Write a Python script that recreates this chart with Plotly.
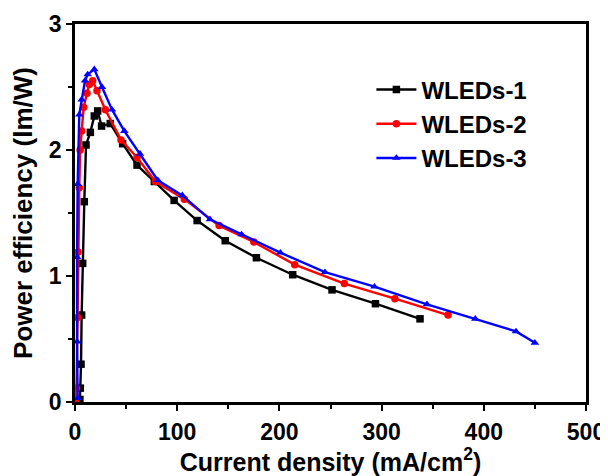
import plotly.graph_objects as go

# WLEDs-1 (black squares)
x1 = [4.8, 5.2, 5.9, 6.5, 7.5, 9.1, 10.8, 15, 18.9, 22.2, 26, 34.5, 46.6, 60.7, 77.6,
      97, 119.5, 147, 177.5, 213, 251.5, 294, 337.6]
y1 = [0.02, 0.11, 0.30, 0.69, 1.10, 1.59, 2.04, 2.14, 2.27, 2.31, 2.19, 2.21, 2.05, 1.88, 1.75,
      1.60, 1.44, 1.28, 1.145, 1.01, 0.89, 0.78, 0.66]

# WLEDs-2 (red circles)
x2 = [1.0, 1.5, 2.5, 3.0, 4.2, 5.0, 6.5, 8.5, 11.7, 14, 17.3, 21.5, 29.7, 45, 60.7, 78.6,
      107, 141, 175, 215, 263.5, 313, 365]
y2 = [0.02, 0.11, 0.67, 1.19, 1.70, 2.0, 2.15, 2.34, 2.45, 2.52, 2.55, 2.47, 2.32, 2.08, 1.94, 1.75,
      1.61, 1.40, 1.27, 1.09, 0.94, 0.82, 0.69]

# WLEDs-3 (blue triangles)
x3 = [2.6, 2.0, 2.0, 2.6, 4.2, 6.5, 9.8, 12.4, 18.9, 26.4, 36.2, 48.3, 63.6, 81, 105,
      132, 163, 201, 244.6, 293, 344.4, 391.7, 431.5, 450]
y3 = [0.03, 0.48, 1.15, 1.73, 2.28, 2.40, 2.55, 2.60, 2.64, 2.50, 2.32, 2.15, 1.97, 1.76, 1.64,
      1.45, 1.33, 1.185, 1.03, 0.915, 0.775, 0.66, 0.56, 0.47]

names = ["WLEDs-1", "WLEDs-2", "WLEDs-3"]
colors = ["#000000", "#ff0000", "#0000ff"]
symbols = ["square", "circle", "triangle-up"]
x_ticks = [0, 100, 200, 300, 400, 500]
y_ticks = [0, 1, 2, 3]

FONT = "Liberation Sans, Arial, sans-serif"

fig = go.Figure()
for xs, ys, n, c, s in zip([x1, x2, x3], [y1, y2, y3], names, colors, symbols):
    fig.add_trace(go.Scatter(
        x=xs, y=ys, name=n, mode="lines+markers",
        line=dict(color=c, width=2.4),
        marker=dict(symbol=s, size=7.5, color=c),
    ))

axis_common = dict(
    showgrid=False, zeroline=False, automargin=False,
    showline=True, linecolor="black", linewidth=2.5, mirror=True,
    ticks="outside", ticklen=6, tickwidth=2, tickcolor="black",
    ticklabeloverflow="allow",
    tickfont=dict(family=FONT, size=23, color="black", weight="bold"),
)

fig.update_xaxes(
    range=[0, 500], tickvals=x_ticks, ticktext=[str(v) for v in x_ticks],
    minor=dict(dtick=50, ticks="outside", ticklen=4, tickwidth=2, tickcolor="black"),
    ticklabelstandoff=2,
    title=dict(text="Current density (mA/cm<sup>2</sup>)",
               font=dict(family=FONT, size=25, color="black", weight="bold"), standoff=16),
    **axis_common,
)
fig.update_yaxes(
    range=[0, 3], tickvals=y_ticks, ticktext=[str(v) for v in y_ticks],
    minor=dict(dtick=0.5, ticks="outside", ticklen=4, tickwidth=2, tickcolor="black"),
    title=dict(text="Power efficiency (lm/W)",
               font=dict(family=FONT, size=26, color="black", weight="bold"), standoff=14),
    **axis_common,
)

# page body has a small margin, so the figure is drawn a little smaller
fig.update_layout(
    width=600, height=468,
    margin=dict(l=67, r=22, t=16, b=74),
    paper_bgcolor="white", plot_bgcolor="white",
    legend=dict(x=0.58, y=0.885, xanchor="left", yanchor="top",
                bgcolor="rgba(0,0,0,0)", borderwidth=0,
                font=dict(family=FONT, size=24, color="black", weight="bold"),
                itemwidth=40),
)

fig.write_html("out.html")
